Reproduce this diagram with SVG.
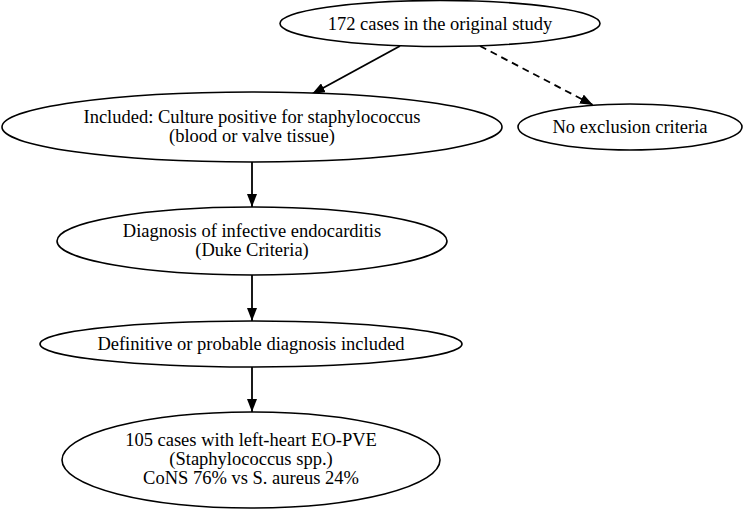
<svg xmlns="http://www.w3.org/2000/svg" width="744" height="510" viewBox="0 0 744 510">
<defs>
<style>
.node ellipse{fill:#fff;stroke:#000;stroke-width:1.6}
.node text{font-family:"Liberation Serif","Times New Roman",serif;font-size:18.5px;fill:#000;text-anchor:middle}
.edge{stroke:#000;stroke-width:1.8;fill:none}
.dash{stroke-dasharray:7,5}
</style>
<marker id="ah" viewBox="0 0 13 10" refX="13" refY="5" markerWidth="13" markerHeight="10" markerUnits="userSpaceOnUse" orient="auto">
<path d="M0,0 L13,5 L0,10 Z" fill="#000"/>
</marker>
</defs>
<rect width="744" height="510" fill="#fff"/>
<g id="connectors">
<line class="edge" x1="400" y1="46" x2="312" y2="94" marker-end="url(#ah)"/>
<line class="edge dash" x1="480" y1="46" x2="593" y2="105" marker-end="url(#ah)"/>
<line class="edge" x1="252" y1="162" x2="252" y2="207" marker-end="url(#ah)"/>
<line class="edge" x1="252" y1="275" x2="252" y2="321" marker-end="url(#ah)"/>
<line class="edge" x1="252" y1="367" x2="252" y2="412" marker-end="url(#ah)"/>
</g>
<g id="n1" class="node">
<ellipse cx="440" cy="23.5" rx="160" ry="23"/>
<text x="440" y="29.5">172 cases in the original study</text>
</g>
<g id="n2" class="node">
<ellipse cx="252" cy="127" rx="250" ry="35"/>
<text x="252" y="122.5">Included: Culture positive for staphylococcus</text>
<text x="252" y="141.5">(blood or valve tissue)</text>
</g>
<g id="n3" class="node">
<ellipse cx="630" cy="127" rx="112" ry="23"/>
<text x="630" y="132.5">No exclusion criteria</text>
</g>
<g id="n4" class="node">
<ellipse cx="252" cy="241" rx="195" ry="34"/>
<text x="252" y="236.5">Diagnosis of infective endocarditis</text>
<text x="252" y="255.5">(Duke Criteria)</text>
</g>
<g id="n5" class="node">
<ellipse cx="251" cy="344" rx="211" ry="23"/>
<text x="251" y="349.5">Definitive or probable diagnosis included</text>
</g>
<g id="n6" class="node">
<ellipse cx="251" cy="460" rx="189" ry="48"/>
<text x="251" y="446">105 cases with left-heart EO-PVE</text>
<text x="251" y="465">(Staphylococcus spp.)</text>
<text x="251" y="484">CoNS 76% vs S. aureus 24%</text>
</g>
</svg>
